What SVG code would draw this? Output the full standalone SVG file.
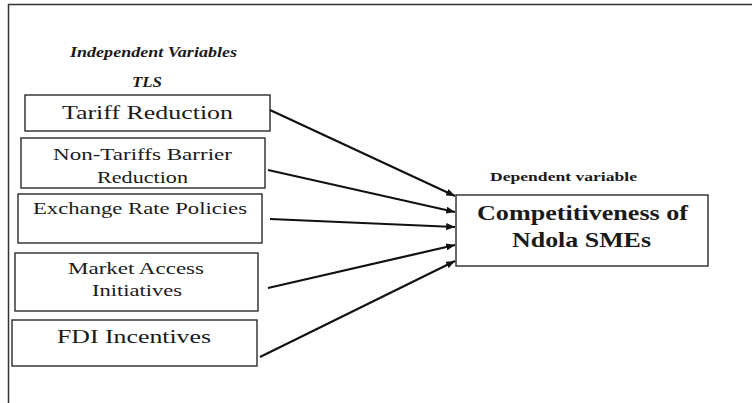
<svg xmlns="http://www.w3.org/2000/svg" width="752" height="403" viewBox="0 0 752 403">
<defs>
<style>
.box{fill:#fff;stroke:#2a2a2a;stroke-width:1.4}
text{font-family:"Liberation Serif","Times New Roman",serif;fill:#1a1a1a}
.b{font-weight:bold}
.bi{font-weight:bold;font-style:italic}
.c{stroke:#111;stroke-width:2.2;fill:none;marker-end:url(#ah)}
</style>
<marker id="ah" viewBox="0 0 10 8" refX="10" refY="4" markerWidth="4.2" markerHeight="3.2" orient="auto" markerUnits="strokeWidth">
<path d="M0,0 L10,4 L0,8 Z" fill="#111"/>
</marker>
</defs>
<rect width="752" height="403" fill="#fff"/>
<g id="frame" stroke="#333" stroke-width="1.5" fill="none">
<path d="M752,4.5 H8.5 V403"/>
</g>
<g id="labels">
<text class="bi" x="70" y="57" font-size="15" textLength="167" lengthAdjust="spacingAndGlyphs">Independent Variables</text>
<text class="bi" x="132" y="87" font-size="15" textLength="30" lengthAdjust="spacingAndGlyphs">TLS</text>
<text class="b" x="490" y="181" font-size="13" textLength="147" lengthAdjust="spacingAndGlyphs">Dependent variable</text>
</g>
<g id="n1">
<rect class="box" x="25" y="95" width="245" height="36"/>
<text x="62" y="119" font-size="19" textLength="171" lengthAdjust="spacingAndGlyphs">Tariff Reduction</text>
</g>
<g id="n2">
<rect class="box" x="21" y="138" width="244" height="50"/>
<text x="53" y="160" font-size="17" textLength="179" lengthAdjust="spacingAndGlyphs">Non-Tariffs Barrier</text>
<text x="97" y="183" font-size="17" textLength="91" lengthAdjust="spacingAndGlyphs">Reduction</text>
</g>
<g id="n3">
<rect class="box" x="18" y="194" width="244" height="49"/>
<text x="33" y="214" font-size="17" textLength="214" lengthAdjust="spacingAndGlyphs">Exchange Rate Policies</text>
</g>
<g id="n4">
<rect class="box" x="15" y="253" width="243" height="58"/>
<text x="68" y="274" font-size="17" textLength="136" lengthAdjust="spacingAndGlyphs">Market Access</text>
<text x="92" y="296" font-size="17" textLength="90" lengthAdjust="spacingAndGlyphs">Initiatives</text>
</g>
<g id="n5">
<rect class="box" x="12" y="320" width="245" height="46"/>
<text x="57" y="343" font-size="19" textLength="154" lengthAdjust="spacingAndGlyphs">FDI Incentives</text>
</g>
<g id="dep">
<rect class="box" x="456" y="195" width="252" height="71"/>
<text class="b" x="477" y="220" font-size="21" textLength="211" lengthAdjust="spacingAndGlyphs">Competitiveness of</text>
<text class="b" x="512" y="247" font-size="21" textLength="139" lengthAdjust="spacingAndGlyphs">Ndola SMEs</text>
</g>
<g id="connectors">
<line class="c" x1="270" y1="110" x2="455" y2="196"/>
<line class="c" x1="268" y1="170" x2="455" y2="212"/>
<line class="c" x1="270" y1="219" x2="455" y2="227"/>
<line class="c" x1="268" y1="288" x2="455" y2="245"/>
<line class="c" x1="260" y1="357" x2="455" y2="261"/>
</g>
</svg>
